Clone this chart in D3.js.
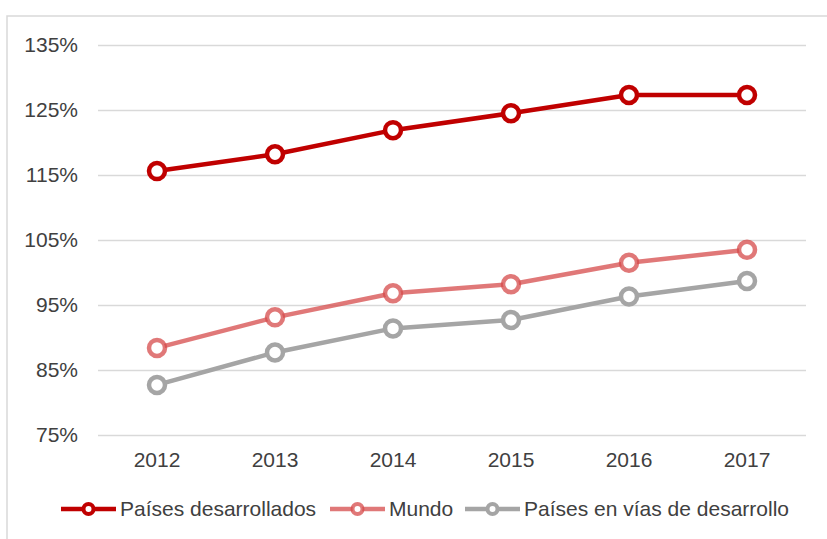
<!DOCTYPE html>
<html>
<head>
<meta charset="utf-8">
<script src="https://cdn.jsdelivr.net/npm/d3@7"></script>
<style>
  body { margin: 0; background: #fff; }
  svg { display: block; font-family: 'Liberation Sans', Arial, sans-serif; }
</style>
</head>
<body>
<svg width="827" height="539"></svg>
<script>
// data
const years = ['2012', '2013', '2014', '2015', '2016', '2017']
const desarrollados = [115.6, 118.2, 121.9, 124.5, 127.3, 127.3]
const mundo = [88.4, 93.1, 96.8, 98.2, 101.5, 103.5]
const enVias = [82.7, 87.7, 91.4, 92.7, 96.3, 98.7]
const yTicks = [75, 85, 95, 105, 115, 125, 135]

const series = [
  { name: 'Países desarrollados', values: desarrollados, color: '#c00000', opacity: 1 },
  { name: 'Mundo', values: mundo, color: '#d64b4b', opacity: 0.75 },
  { name: 'Países en vías de desarrollo', values: enVias, color: '#a5a5a5', opacity: 1 },
]

const svg = d3.select('svg')
const margin = { left: 98, right: 21, top: 45, bottom: 104 }
const width = 827
const height = 539
const fontSize = '21px'

// chart border (runs off the right and bottom edge)
svg.append('rect')
  .attr('x', 7).attr('y', 16)
  .attr('width', 830).attr('height', 540)
  .attr('fill', 'none')
  .attr('stroke', '#d9d9d9')
  .attr('stroke-width', 1.5)

const x = d3.scaleBand()
  .domain(years)
  .range([margin.left, width - margin.right])

const y = d3.scaleLinear()
  .domain([75, 135])
  .range([height - margin.bottom, margin.top])

// gridlines + y labels
const yAxis = svg.append('g')
  .attr('transform', `translate(${margin.left},0)`)
  .call(d3.axisLeft(y).tickValues(yTicks).tickFormat((d) => d + '%')
    .tickSize(-(width - margin.left - margin.right)).tickPadding(20))
yAxis.select('.domain').remove()
yAxis.selectAll('.tick line').attr('stroke', '#d9d9d9').attr('stroke-width', 1.5)
yAxis.selectAll('.tick text')
  .attr('fill', '#404040')
  .style('font-size', fontSize)
  .style('font-family', "'Liberation Sans', Arial, sans-serif")

// x labels
const xAxis = svg.append('g')
  .attr('transform', `translate(0,${height - margin.bottom})`)
  .call(d3.axisBottom(x).tickSize(0).tickPadding(17))
xAxis.select('.domain').remove()
xAxis.selectAll('.tick text')
  .attr('fill', '#404040')
  .style('font-size', fontSize)
  .style('font-family', "'Liberation Sans', Arial, sans-serif")

const line = d3.line()
  .x((d, i) => x(years[i]) + x.bandwidth() / 2)
  .y((d) => y(d))

series.forEach((s) => {
  const g = svg.append('g')
  g.append('path')
    .datum(s.values)
    .attr('d', line)
    .attr('fill', 'none')
    .attr('stroke', s.color)
    .attr('stroke-opacity', s.opacity)
    .attr('stroke-width', 4.5)
    .attr('stroke-linejoin', 'round')

  g.selectAll('circle')
    .data(s.values)
    .join('circle')
    .attr('cx', (d, i) => x(years[i]) + x.bandwidth() / 2)
    .attr('cy', (d) => y(d))
    .attr('r', 8)
    .attr('fill', '#fff')
    .attr('stroke', s.color)
    .attr('stroke-opacity', s.opacity)
    .attr('stroke-width', 4.5)
})

// legend
const legendX = [61, 330, 465]
const legend = svg.append('g')
series.forEach((s, i) => {
  const lg = legend.append('g').attr('transform', `translate(${legendX[i]},509)`)
  lg.append('line')
    .attr('x1', 0).attr('x2', 55)
    .attr('stroke', s.color)
    .attr('stroke-opacity', s.opacity)
    .attr('stroke-width', 4.5)
  lg.append('circle')
    .attr('cx', 27.5).attr('r', 5)
    .attr('fill', '#fff')
    .attr('stroke', s.color)
    .attr('stroke-opacity', s.opacity)
    .attr('stroke-width', 4)
  lg.append('text')
    .attr('x', 59).attr('dy', '0.35em')
    .attr('fill', '#404040')
    .style('font-size', fontSize)
    .text(s.name)
})
</script>
</body>
</html>
